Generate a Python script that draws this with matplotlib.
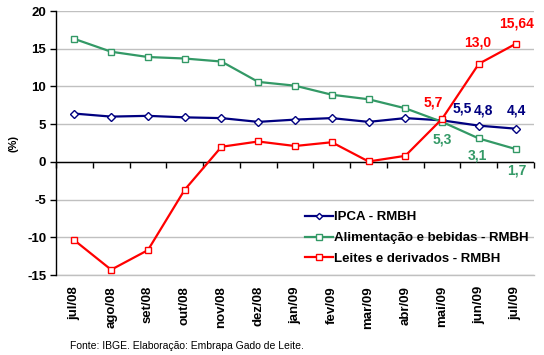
import numpy as np
import matplotlib.pyplot as plt

plt.rcParams['font.family'] = ['Liberation Sans', 'DejaVu Sans']

# data
months = ['jul/08', 'ago/08', 'set/08', 'out/08', 'nov/08', 'dez/08', 'jan/09',
          'fev/09', 'mar/09', 'abr/09', 'mai/09', 'jun/09', 'jul/09']
ipca = [6.4, 6.0, 6.1, 5.9, 5.8, 5.3, 5.6, 5.8, 5.3, 5.8, 5.5, 4.8, 4.4]
alimentacao = [16.3, 14.6, 13.9, 13.7, 13.3, 10.6, 10.1, 8.9, 8.3, 7.1, 5.3, 3.1, 1.7]
leites = [-10.4, -14.3, -11.7, -3.7, 2.0, 2.7, 2.1, 2.6, 0.05, 0.8, 5.7, 13.0, 15.64]

series_names = ['IPCA - RMBH', 'Alimentação e bebidas - RMBH', 'Leites e derivados - RMBH']

# labels on the last points: (series, index, text)
point_labels = [
    (2, 10, '5,7'), (0, 10, '5,5'), (0, 11, '4,8'), (0, 12, '4,4'),
    (1, 10, '5,3'), (1, 11, '3,1'), (1, 12, '1,7'),
    (2, 11, '13,0'), (2, 12, '15,64'),
]
label_offsets = [(-9, 16), (20, 12), (5, 15), (1, 18),
                 (0, -18), (-1, -17), (1, -21), (-1, 21), (1, 20)]

navy = '#000080'
green = '#339966'
red = '#FF0000'
colors = [navy, green, red]

fig = plt.figure(figsize=(5.44, 3.55), dpi=100)
ax = fig.add_axes([56 / 544, 1 - 275 / 355, 478 / 544, 264 / 355])

x = np.arange(len(months))
all_series = [ipca, alimentacao, leites]
markers = ['D', 's', 's']
msizes = [4, 5, 5]
for vals, c, m, ms, name in zip(all_series, colors, markers, msizes, series_names):
    ax.plot(x, vals, color=c, lw=1.6, marker=m, ms=ms, mfc='white', mec=c,
            mew=1.0, label=name, zorder=3)

ax.set_xlim(-0.5, len(months) - 0.5)
ax.set_ylim(-15, 20)
yticks = np.arange(-15, 21, 5)
ax.set_yticks(yticks)
ax.set_yticklabels([str(v) for v in yticks], fontsize=9.5, fontweight='bold')
ax.yaxis.grid(True, color='#C0C0C0', lw=1)
ax.axhline(yticks[0], color='#C0C0C0', lw=1, clip_on=False, zorder=0)
ax.set_axisbelow(True)
ax.tick_params(axis='y', direction='out', length=4, width=1, pad=3)

for s in ['top', 'right', 'bottom']:
    ax.spines[s].set_visible(False)
ax.spines['left'].set_linewidth(1)

# category labels at the bottom
ax.set_xticks(x)
ax.set_xticklabels(months, rotation=90, fontsize=9.5, fontweight='bold')
ax.tick_params(axis='x', length=0, pad=8)

# horizontal axis crossing at zero, ticks between categories
ax.axhline(0, color='black', lw=1, zorder=2)
zero_pos = (0 - ax.get_ylim()[0]) / (ax.get_ylim()[1] - ax.get_ylim()[0])
sec = ax.secondary_xaxis(zero_pos)
sec.set_xticks(np.arange(-0.5, len(months), 1.0))
sec.set_xticklabels([])
sec.tick_params(direction='out', length=4, width=1)
sec.spines['bottom'].set_visible(False)

for (si, idx, txt), off in zip(point_labels, label_offsets):
    ax.annotate(txt, (x[idx], all_series[si][idx]), xytext=off,
                textcoords='offset pixels', ha='center', va='center',
                fontsize=10, fontweight='bold', color=colors[si], zorder=5)

ax.set_ylabel('(%)', fontsize=8, fontweight='bold', labelpad=6)

leg = ax.legend(loc='upper left', bbox_to_anchor=(0.51, 0.262), frameon=False,
                prop={'size': 9.5, 'weight': 'bold'}, handlelength=2.1,
                handletextpad=0.1, labelspacing=0.65, borderaxespad=0,
                markerscale=0.8)

fig.text(70 / 544, 1 - 346 / 355, 'Fonte: IBGE. Elaboração: Embrapa Gado de Leite.',
         fontsize=7.5, va='center', ha='left')

fig.savefig('out.png', dpi=100)
